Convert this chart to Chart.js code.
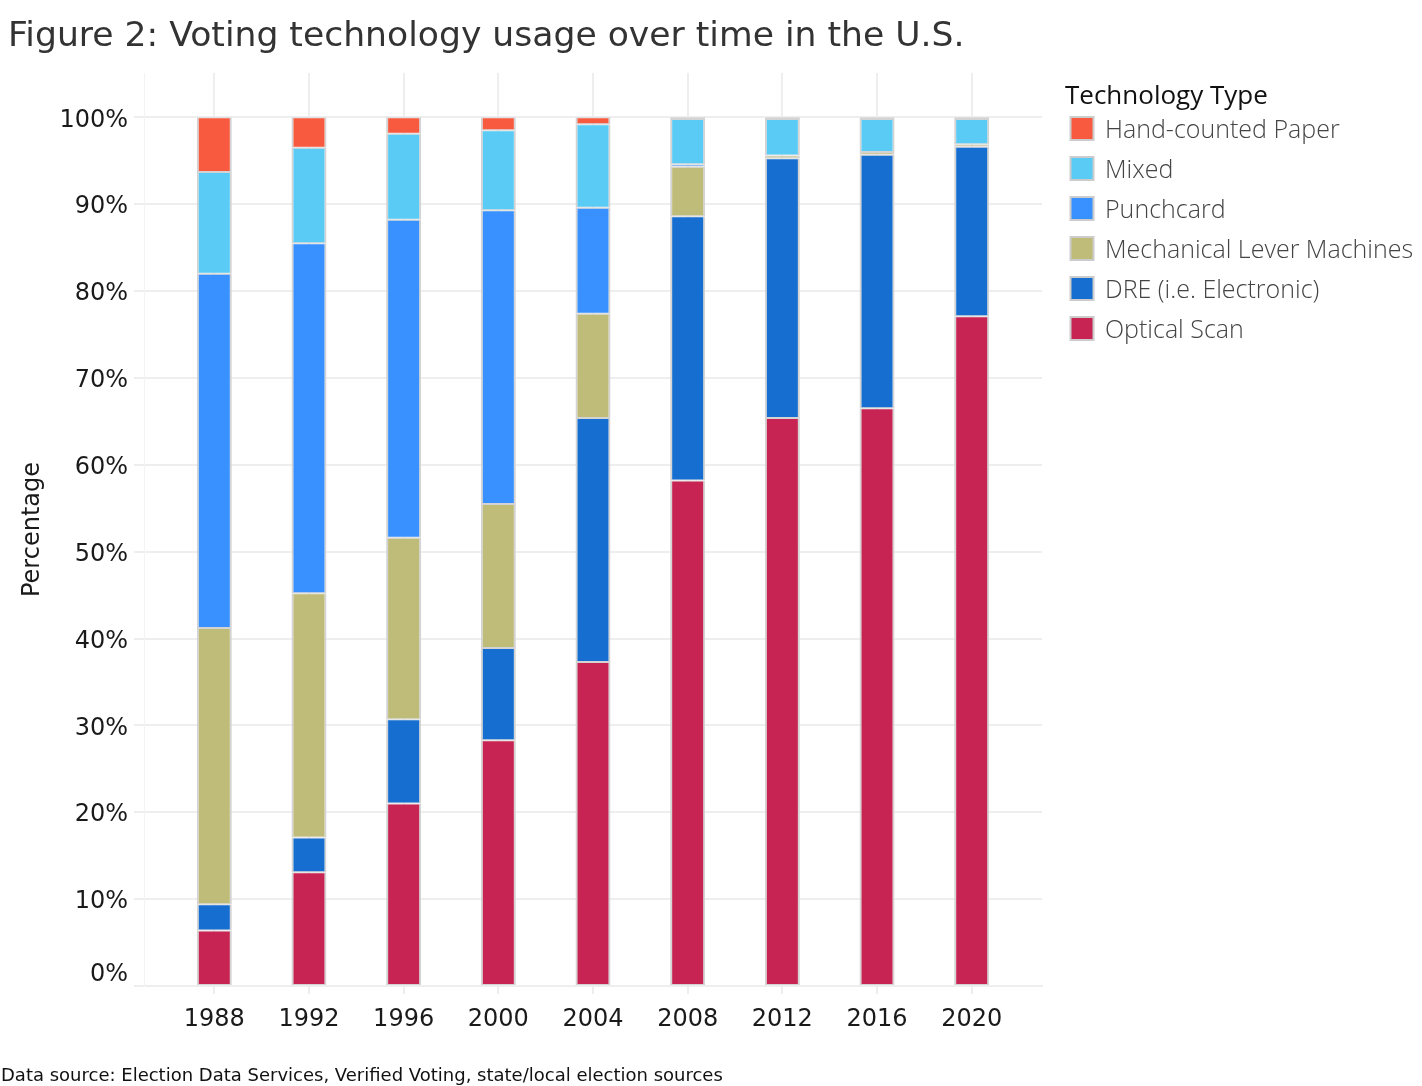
<!DOCTYPE html>
<html>
<head>
<meta charset="utf-8">
<style>
  html, body { margin: 0; padding: 0; background: #ffffff; }
  #wrap { width: 1422px; height: 1086px; position: relative; }
  canvas { display: block; }
</style>
<script src="https://cdn.jsdelivr.net/npm/chart.js@4.4.1/dist/chart.umd.min.js"></script>
</head>
<body>
<div id="wrap"><canvas id="chart" width="1422" height="1086"></canvas></div>
<script>
// ---------- data (share of voting technology, percent) ----------
const years = [1988, 1992, 1996, 2000, 2004, 2008, 2012, 2016, 2020];

const opticalScan     = [6.4, 13.1, 21.0, 28.3, 37.3, 58.2, 65.4, 66.5, 77.1];
const dreElectronic   = [3.0,  4.0,  9.7, 10.6, 28.1, 30.4, 29.9, 29.2, 19.5];
const mechanicalLever = [31.8, 28.1, 20.9, 16.6, 12.0, 5.7, 0.3, 0.3, 0.3];
const punchcard       = [40.8, 40.3, 36.6, 33.8, 12.2, 0.3, 0, 0, 0];
const mixed           = [11.7, 11.0,  9.9,  9.2,  9.6, 5.2, 4.2, 3.8, 2.9];
const handCounted     = [6.3,  3.5,  1.9,  1.5,  0.8, 0.2, 0.2, 0.2, 0.2];

const seriesNames = ['Optical Scan', 'DRE (i.e. Electronic)', 'Mechanical Lever Machines',
                     'Punchcard', 'Mixed', 'Hand-counted Paper'];
const seriesValues = [opticalScan, dreElectronic, mechanicalLever, punchcard, mixed, handCounted];
const seriesColors = ['#C72454', '#166FD0', '#BFBB79', '#3891FF', '#59CBF5', '#F85A40'];

const yTicks = [0, 10, 20, 30, 40, 50, 60, 70, 80, 90, 100];

const chartTitle = 'Figure 2: Voting technology usage over time in the U.S.';
const yAxisTitle = 'Percentage';
const legendTitle = 'Technology Type';
const sourceNote = 'Data source: Election Data Services, Verified Voting, state/local election sources';

// ---------- styling ----------
const FONT = "'DejaVu Sans', Verdana, sans-serif";
const LEGEND_FONT = "'Open Sans', 'Noto Sans', sans-serif";
const GRID = '#eeeeee';

const datasets = seriesNames.map((name, k) => ({
  label: name,
  data: years.map((yr, i) => ({ x: yr, y: seriesValues[k][i] })),
  backgroundColor: seriesColors[k],
  borderColor: '#d3d3d3',
  borderWidth: { top: 1, bottom: 1, left: 2, right: 2 },
  borderSkipped: false,
  barPercentage: 0.37,
  categoryPercentage: 1.0
}));

// side legend + footnote drawn on the chart canvas
const sideLegend = {
  id: 'sideLegend',
  afterDraw(chart, args, o) {
    const ctx = chart.ctx;
    ctx.save();
    ctx.textAlign = 'left';
    ctx.textBaseline = 'middle';
    ctx.fillStyle = '#111111';
    ctx.font = "26px " + LEGEND_FONT;
    ctx.fillText(legendTitle, o.x, o.titleY);
    const items = chart.data.datasets.slice().reverse();
    items.forEach((ds, i) => {
      const y = o.top + i * o.step;
      ctx.fillStyle = ds.backgroundColor;
      ctx.fillRect(o.x + 5.5, y, o.box, o.box);
      ctx.lineWidth = 2;
      ctx.strokeStyle = '#cccccc';
      ctx.strokeRect(o.x + 5.5, y, o.box, o.box);
      ctx.fillStyle = '#444444';
      ctx.font = "300 25px " + LEGEND_FONT;
      ctx.fillText(ds.label, o.x + 40, y + o.box / 2 + 2);
    });
    ctx.fillStyle = '#111111';
    ctx.font = "18px " + FONT;
    ctx.fillText(sourceNote, 1, 1076.5);
    ctx.restore();
  }
};

new Chart(document.getElementById('chart'), {
  type: 'bar',
  data: { datasets },
  plugins: [sideLegend],
  options: {
    responsive: false,
    animation: false,
    devicePixelRatio: 1,
    layout: { padding: { left: 8, right: 380, top: 0, bottom: 54 } },
    plugins: {
      legend: { display: false },
      tooltip: { enabled: false },
      title: {
        display: true,
        text: chartTitle,
        align: 'start',
        color: '#333333',
        font: { family: FONT, size: 34.6, weight: 'normal', lineHeight: 1.2 },
        padding: { top: 16, bottom: 15.5 }
      },
      sideLegend: { x: 1065, titleY: 97, top: 117, step: 40, box: 23 }
    },
    scales: {
      x: {
        type: 'linear',
        stacked: true,
        offset: false,
        min: 1985.03,
        max: 2022.97,
        afterBuildTicks: (scale) => { scale.ticks = years.map(v => ({ value: v })); },
        afterFit: (scale) => { scale.height = 46; },
        ticks: {
          stepSize: 4,
          autoSkip: false,
          maxRotation: 0,
          padding: 11,
          color: '#1a1a1a',
          font: { family: FONT, size: 24 },
          callback: (v) => String(v)
        },
        grid: { offset: false, color: GRID, lineWidth: 2, drawTicks: true, tickLength: 8, tickColor: GRID },
        border: { display: true, color: GRID, width: 2 }
      },
      y: {
        stacked: true,
        min: 0,
        max: 105.1,
        afterBuildTicks: (scale) => { scale.ticks = yTicks.map(v => ({ value: v })); },
        afterFit: (scale) => { scale.width = 136; },
        ticks: {
          stepSize: 10,
          padding: 6,
          labelOffset: 3,
          color: '#1a1a1a',
          font: { family: FONT, size: 24 },
          callback: (v) => v === 0 ? ['0%', ''] : v + '%'
        },
        grid: { color: GRID, lineWidth: 2, drawTicks: true, tickLength: 10, tickColor: GRID },
        border: { display: true, color: '#f3f3f3', width: 1 },
        title: {
          display: true,
          text: yAxisTitle,
          color: '#1a1a1a',
          font: { family: FONT, size: 24 },
          padding: { top: 10, bottom: 0 }
        }
      }
    }
  }
});
</script>
</body>
</html>
